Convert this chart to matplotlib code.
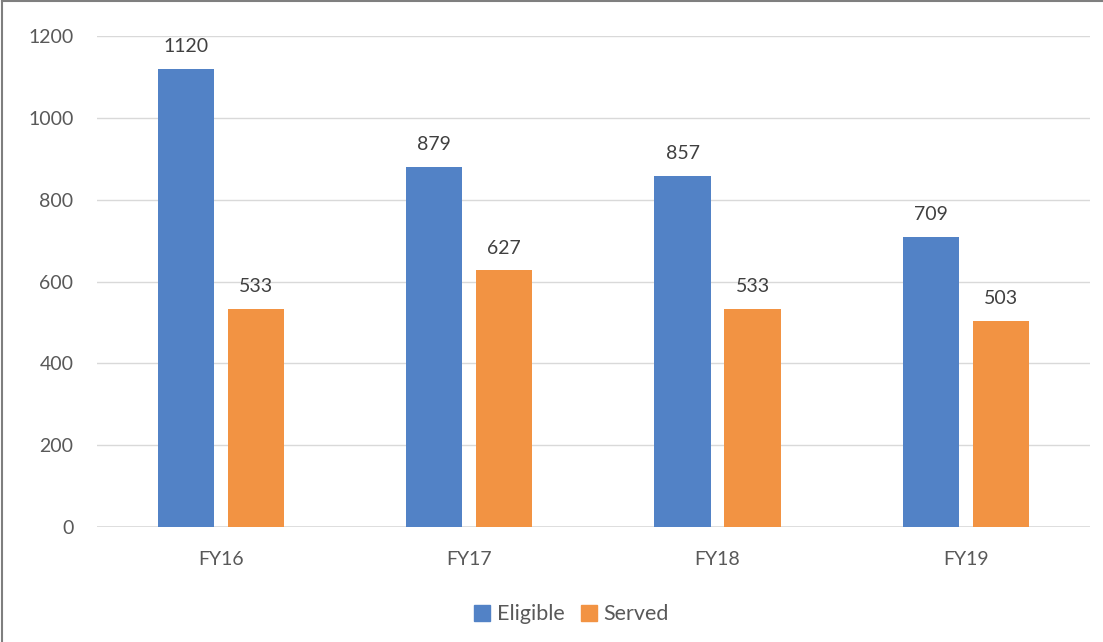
import matplotlib.pyplot as plt
import numpy as np
from matplotlib.lines import Line2D

years = ['FY16', 'FY17', 'FY18', 'FY19']
eligible = [1120, 879, 857, 709]
served = [533, 627, 533, 503]

blue = '#5282c6'
orange = '#f29343'
text_col = '#595959'

plt.rcParams['font.family'] = ['Lato', 'DejaVu Sans']

fig = plt.figure(figsize=(11.03, 6.42), dpi=100)
ax = fig.add_axes([0.088, 0.179, 0.9, 0.765])

x = np.arange(len(years))
w = 0.226
off = 0.141
b1 = ax.bar(x - off, eligible, w, color=blue, label='Eligible', zorder=3)
b2 = ax.bar(x + off, served, w, color=orange, label='Served', zorder=3)

for bars, vals in ((b1, eligible), (b2, served)):
    for rect, v in zip(bars, vals):
        ax.annotate(str(v), (rect.get_x() + rect.get_width() / 2, v),
                    xytext=(0, 10), textcoords='offset points',
                    ha='center', va='bottom', fontsize=14, color='#404040')

ax.set_xlim(-0.5, 3.5)
ax.set_ylim(0, 1200)
ax.set_yticks(range(0, 1201, 200))
ax.set_xticks(x)
ax.set_xticklabels(years)
ax.grid(axis='y', color='#d9d9d9', linewidth=1, zorder=0)
for s in ax.spines.values():
    s.set_visible(False)
ax.axhline(0, color='#d9d9d9', linewidth=1.2, zorder=2)
ax.tick_params(length=0, labelsize=14, labelcolor=text_col)
ax.tick_params(axis='x', pad=17)
ax.tick_params(axis='y', pad=17)

handles = [Line2D([], [], marker='s', linestyle='', markersize=11, color=blue),
           Line2D([], [], marker='s', linestyle='', markersize=11, color=orange)]
fig.legend(handles, ['Eligible', 'Served'], loc='center', bbox_to_anchor=(0.518, 0.043),
           ncol=2, frameon=False, fontsize=15.5, labelcolor=text_col,
           handlelength=0.8, handletextpad=0.3, columnspacing=0.7)

# screenshot frame on left and top
fig.add_artist(Line2D([0.002, 0.002], [0, 0.998], color='#7f7f7f', linewidth=1.5))
fig.add_artist(Line2D([0.002, 1], [0.998, 0.998], color='#7f7f7f', linewidth=1.5))

fig.savefig('out.png', dpi=100)
